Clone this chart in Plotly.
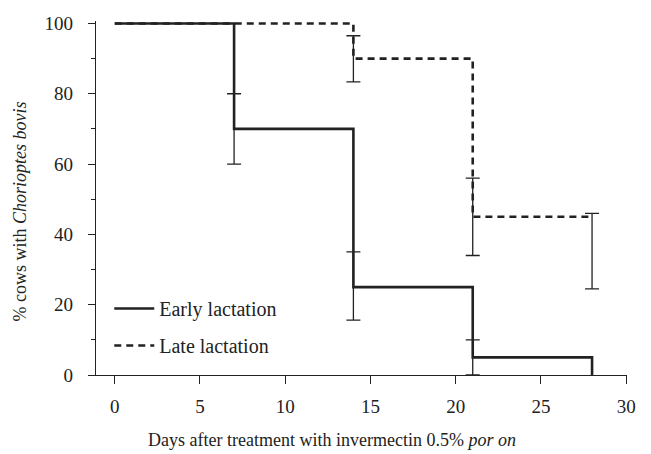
import plotly.graph_objects as go

days_early = [0, 7, 14, 21, 28]
pct_early = [100, 70, 25, 5, 0]
days_late = [0, 14, 21, 28]
pct_late = [100, 90, 45, 45]

# error bars (value, upper, lower)
err_early_x = [7, 14, 21]
err_early_y = [70, 25, 5]
err_early_up = [80, 35, 10]
err_early_lo = [60, 15.6, 0]

err_late_x = [14, 21, 28]
err_late_y = [90, 45, 45]
err_late_up = [96.5, 56, 46]
err_late_lo = [83.4, 34, 24.5]

x_ticks = [0, 5, 10, 15, 20, 25, 30]
y_ticks = [0, 20, 40, 60, 80, 100]
y_minor = [10, 30, 50, 70, 90]

x_title = "Days after treatment with invermectin 0.5% <i>por on</i>"
y_title = "% cows with <i>Chorioptes bovis</i>"

INK = "#222222"
FONT = "Liberation Serif"

fig = go.Figure()

fig.add_trace(go.Scatter(
    x=err_late_x, y=err_late_y, mode="markers", marker=dict(size=0.1, color=INK),
    showlegend=False, hoverinfo="skip",
    error_y=dict(type="data", symmetric=False,
                 array=[u - v for u, v in zip(err_late_up, err_late_y)],
                 arrayminus=[v - l for l, v in zip(err_late_lo, err_late_y)],
                 color=INK, thickness=1.3, width=7)))
fig.add_trace(go.Scatter(
    x=err_early_x, y=err_early_y, mode="markers", marker=dict(size=0.1, color=INK),
    showlegend=False, hoverinfo="skip",
    error_y=dict(type="data", symmetric=False,
                 array=[u - v for u, v in zip(err_early_up, err_early_y)],
                 arrayminus=[v - l for l, v in zip(err_early_lo, err_early_y)],
                 color=INK, thickness=1.3, width=7)))

fig.add_trace(go.Scatter(
    x=days_late, y=pct_late, mode="lines", line_shape="hv",
    line=dict(color=INK, width=2.6, dash="7px,5px"),
    name="Late lactation", legendgroup="late", legendrank=2))
fig.add_trace(go.Scatter(
    x=days_early, y=pct_early, mode="lines", line_shape="hv",
    line=dict(color=INK, width=2.6),
    name="Early lactation", legendgroup="early", legendrank=1))

fig.update_layout(
    width=651, height=454,
    margin=dict(l=96, r=24, t=21, b=79),
    paper_bgcolor="white", plot_bgcolor="white",
    font=dict(family=FONT, size=16, color=INK),
    showlegend=True,
    legend=dict(x=0.025, y=0.243, xanchor="left", yanchor="top",
                traceorder="grouped", tracegroupgap=8, itemwidth=40,
                bgcolor="rgba(0,0,0,0)", font=dict(size=20, family=FONT)),
    xaxis=dict(range=[-1.1, 30.05], tickmode="array", tickvals=x_ticks,
               ticks="outside", ticklen=8, tickwidth=1.2, tickcolor=INK, automargin=False,
               showline=True, linecolor=INK, linewidth=1.3, showgrid=False, zeroline=False,
               tickfont=dict(size=19), ticklabelstandoff=6),
    yaxis=dict(range=[0, 100.7], tickmode="array", tickvals=y_ticks,
               ticks="outside", ticklen=7, tickwidth=1.2, tickcolor=INK, automargin=False,
               minor=dict(tickvals=y_minor, ticks="outside", ticklen=4,
                          tickwidth=1.0, tickcolor=INK),
               showline=True, linecolor=INK, linewidth=1.3, showgrid=False, zeroline=False,
               tickfont=dict(size=19), ticklabelstandoff=11),
    annotations=[
        dict(text=x_title, xref="paper", yref="paper", x=0.444, y=-0.184,
             xanchor="center", yanchor="middle", showarrow=False, font=dict(size=18)),
        dict(text=y_title, xref="paper", yref="paper", x=-0.143, y=0.462,
             xanchor="center", yanchor="middle", showarrow=False, textangle=-90,
             font=dict(size=18)),
    ],
)

fig.write_html("out.html", config={"displayModeBar": False},
               post_script="document.body.style.margin='0';")
